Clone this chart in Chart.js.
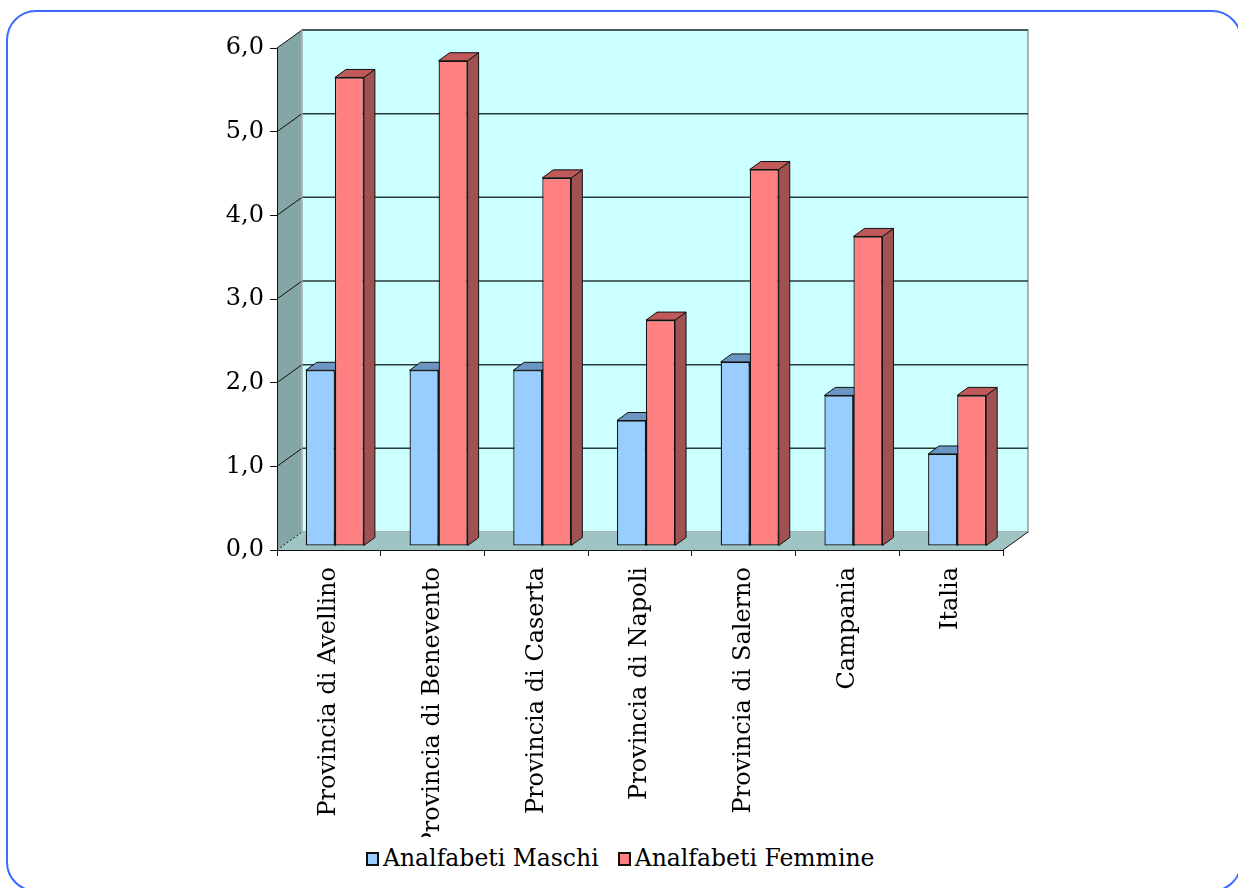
<!DOCTYPE html>
<html>
<head>
<meta charset="utf-8">
<script src="https://cdn.jsdelivr.net/npm/chart.js@4.4.1/dist/chart.umd.min.js"></script>
<style>
  body { margin: 0; background: #fff; overflow: hidden; width: 1238px; height: 888px; position: relative; }
  #frame { position: absolute; left: 6px; top: 10px; width: 1236px; height: 882px; box-sizing: border-box;
           border: 2.5px solid #3d6bff; border-radius: 30px; }
  #chart { position: absolute; left: 0; top: 0; }
  #legend { position: absolute; left: 366px; top: 847px; display: flex; font-family: "DejaVu Serif", serif;
            font-size: 23.5px; line-height: 23px; color: #000; white-space: nowrap; }
  .item { display: flex; align-items: center; margin-right: 19px; }
  .box { width: 13px; height: 14px; box-sizing: border-box; border: 2px solid #111; margin-right: 4px; }
</style>
</head>
<body>
<div id="frame"></div>
<canvas id="chart" width="1238" height="837"></canvas>
<div id="legend"></div>
<script>
// Data
const categories = ['Provincia di Avellino', 'Provincia di Benevento', 'Provincia di Caserta',
  'Provincia di Napoli', 'Provincia di Salerno', 'Campania', 'Italia'];
const maschi = [2.1, 2.1, 2.1, 1.5, 2.2, 1.8, 1.1];
const femmine = [5.6, 5.8, 4.4, 2.7, 4.5, 3.7, 1.8];
const seriesNames = ['Analfabeti Maschi', 'Analfabeti Femmine'];
const yTicks = [0, 1, 2, 3, 4, 5, 6];

// colours: front, top, side
const palette = [
  { front: '#99ccff', top: '#6b96c4', side: '#5f86b0' },
  { front: '#ff8080', top: '#c05a5a', side: '#a05252' }
];

const DEPTH_X = 25, DEPTH_Y = -18;   // wall depth
const BAR_DX = 11, BAR_DY = 8;       // bar thickness
const SHIFT_X = 6, SHIFT_Y = -4;     // bars sit a little behind the front

function poly(ctx, pts, fill, stroke, lw) {
  ctx.beginPath();
  ctx.moveTo(pts[0][0], pts[0][1]);
  for (let i = 1; i < pts.length; i++) ctx.lineTo(pts[i][0], pts[i][1]);
  ctx.closePath();
  if (fill) { ctx.fillStyle = fill; ctx.fill(); }
  if (stroke) { ctx.strokeStyle = stroke; ctx.lineWidth = lw || 1; ctx.stroke(); }
}

// Walls, floor and back grid
const walls3d = {
  id: 'walls3d',
  beforeDraw(chart) {
    const ctx = chart.ctx;
    const { left, right, top, bottom } = chart.chartArea;
    const y = chart.scales.y;
    const dx = DEPTH_X, dy = DEPTH_Y;
    ctx.save();
    // back wall
    poly(ctx, [[left + dx, top + dy], [right + dx, top + dy], [right + dx, bottom + dy], [left + dx, bottom + dy]],
      '#ccffff', '#9a9a9a', 1.5);
    // left wall
    poly(ctx, [[left, top], [left + dx, top + dy], [left + dx, bottom + dy], [left, bottom]], '#84a6a6', null);
    // floor
    poly(ctx, [[left, bottom], [right, bottom], [right + dx, bottom + dy], [left + dx, bottom + dy]], '#9ec4c4', null);
    // grid on back wall + left wall
    yTicks.forEach(v => {
      const py = y.getPixelForValue(v);
      if (v > 0) {
        ctx.strokeStyle = '#2a3a3a';
        ctx.lineWidth = 1.5;
        ctx.beginPath();
        ctx.moveTo(left + dx, py + dy);
        ctx.lineTo(right + dx, py + dy);
        ctx.stroke();
      }
      ctx.strokeStyle = '#111';
      ctx.lineWidth = 1;
      ctx.setLineDash(v === 0 ? [2, 2] : []);
      ctx.beginPath();
      ctx.moveTo(left, py);
      ctx.lineTo(left + dx, py + dy);
      ctx.stroke();
      ctx.setLineDash([]);
    });
    // left wall back edge
    ctx.strokeStyle = '#b8c8c8';
    ctx.lineWidth = 1;
    ctx.beginPath();
    ctx.moveTo(left + dx, top + dy);
    ctx.lineTo(left + dx, bottom + dy);
    ctx.stroke();
    // floor right edge
    ctx.strokeStyle = '#111';
    ctx.beginPath();
    ctx.moveTo(right, bottom);
    ctx.lineTo(right + dx, bottom + dy);
    ctx.stroke();
    ctx.restore();
  },
  beforeDatasetsDraw(chart) {
    const ctx = chart.ctx;
    ctx.save();
    ctx.translate(SHIFT_X, SHIFT_Y);
    // draw tops and sides first; Chart.js front faces go over them
    for (let d = 0; d < chart.data.datasets.length; d++) {
      const meta = chart.getDatasetMeta(d);
      meta.data.forEach(bar => {
        const { x, y, base, width } = bar.getProps(['x', 'y', 'base', 'width'], true);
        const l = x - width / 2, r = x + width / 2;
        poly(ctx, [[r, y], [r + BAR_DX, y - BAR_DY], [r + BAR_DX, base - BAR_DY], [r, base]],
          palette[d].side, '#111', 1);
        poly(ctx, [[l, y], [r, y], [r + BAR_DX, y - BAR_DY], [l + BAR_DX, y - BAR_DY]],
          palette[d].top, '#111', 1);
      });
    }
  },
  afterDatasetsDraw(chart) {
    chart.ctx.restore();
  }
};

const serif = 'DejaVu Serif';

new Chart(document.getElementById('chart'), {
  type: 'bar',
  data: {
    labels: categories,
    datasets: [
      { label: seriesNames[0], data: maschi, backgroundColor: palette[0].front, borderColor: '#111', borderWidth: 1.3 },
      { label: seriesNames[1], data: femmine, backgroundColor: palette[1].front, borderColor: '#111', borderWidth: 1.3 }
    ]
  },
  options: {
    responsive: false,
    animation: false,
    datasets: { bar: { categoryPercentage: 0.56, barPercentage: 1.0, borderSkipped: false } },
    layout: { padding: { left: 0, right: 235, top: 48, bottom: 0 } },
    plugins: { legend: { display: false }, tooltip: { enabled: false } },
    scales: {
      x: {
        grid: { offset: true, drawOnChartArea: false, tickLength: 6, color: '#111' },
        border: { display: true, color: '#111' },
        ticks: {
          autoSkip: false, minRotation: 90, maxRotation: 90, padding: 11, color: '#000',
          font: { family: serif, size: 24 }
        },
        afterFit(scale) { scale.height = 837 - 550; }
      },
      y: {
        min: 0, max: 6,
        afterBuildTicks(scale) { scale.ticks = yTicks.map(v => ({ value: v })); },
        grid: { drawOnChartArea: false, tickLength: 7, color: '#111' },
        border: { display: true, color: '#111' },
        ticks: {
          padding: 6, color: '#000', font: { family: serif, size: 24 },
          callback: v => v.toFixed(1).replace('.', ',')
        },
        afterFit(scale) { scale.width = 277; }
      }
    }
  },
  plugins: [walls3d]
});

// HTML legend
const legend = document.getElementById('legend');
seriesNames.forEach((name, i) => {
  const item = document.createElement('div');
  item.className = 'item';
  item.innerHTML = `<span class="box" style="background:${palette[i].front}"></span><span>${name}</span>`;
  legend.appendChild(item);
});
</script>
</body>
</html>
